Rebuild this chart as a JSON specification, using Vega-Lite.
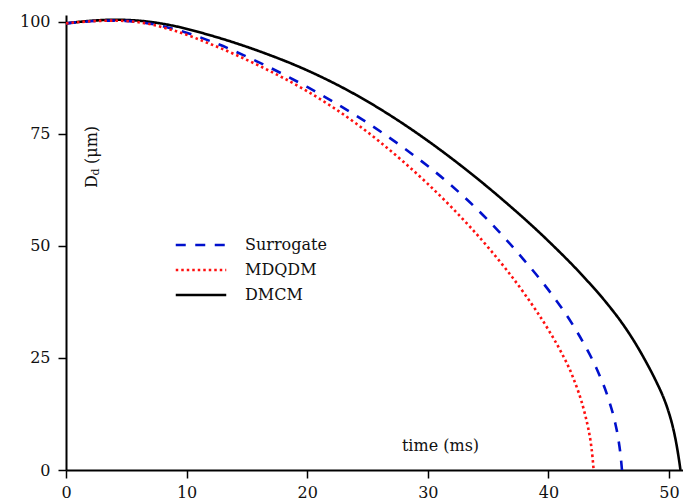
{
  "$schema": "https://vega.github.io/schema/vega-lite/v6.json",
  "width": 617,
  "height": 455,
  "autosize": {"type": "none"},
  "padding": {"left": 66, "top": 15, "right": 0, "bottom": 33},
  "background": "white",
  "config": {"view": {"stroke": null}, "font": "DejaVu Serif"},
  "datasets": {
    "curves": [
      {"model": "DMCM", "t": 0, "D": 99.7}, {"model": "DMCM", "t": 2, "D": 100.25}, {"model": "DMCM", "t": 4, "D": 100.5},
      {"model": "DMCM", "t": 6, "D": 100.3}, {"model": "DMCM", "t": 9, "D": 99.1}, {"model": "DMCM", "t": 12, "D": 97.0},
      {"model": "DMCM", "t": 16, "D": 93.5}, {"model": "DMCM", "t": 20, "D": 89.2}, {"model": "DMCM", "t": 24, "D": 83.8},
      {"model": "DMCM", "t": 28, "D": 77.2}, {"model": "DMCM", "t": 32, "D": 69.5}, {"model": "DMCM", "t": 36, "D": 60.8},
      {"model": "DMCM", "t": 40, "D": 51.1}, {"model": "DMCM", "t": 43, "D": 42.9}, {"model": "DMCM", "t": 45, "D": 36.7},
      {"model": "DMCM", "t": 46, "D": 33.2}, {"model": "DMCM", "t": 47, "D": 29.2}, {"model": "DMCM", "t": 48, "D": 24.6},
      {"model": "DMCM", "t": 49, "D": 19.4}, {"model": "DMCM", "t": 49.5, "D": 16.45}, {"model": "DMCM", "t": 50, "D": 12.7},
      {"model": "DMCM", "t": 50.3, "D": 9.8}, {"model": "DMCM", "t": 50.6, "D": 6.0}, {"model": "DMCM", "t": 50.85, "D": 1.9},
      {"model": "DMCM", "t": 50.95, "D": 0},

      {"model": "Surrogate", "t": 0, "D": 99.7}, {"model": "Surrogate", "t": 2, "D": 100.15}, {"model": "Surrogate", "t": 4, "D": 100.3},
      {"model": "Surrogate", "t": 6, "D": 100.0}, {"model": "Surrogate", "t": 9, "D": 98.4}, {"model": "Surrogate", "t": 12, "D": 95.7},
      {"model": "Surrogate", "t": 16, "D": 91.0}, {"model": "Surrogate", "t": 20, "D": 85.5}, {"model": "Surrogate", "t": 24, "D": 79.2},
      {"model": "Surrogate", "t": 28, "D": 71.9}, {"model": "Surrogate", "t": 32, "D": 63.4}, {"model": "Surrogate", "t": 35, "D": 55.75},
      {"model": "Surrogate", "t": 38, "D": 46.8}, {"model": "Surrogate", "t": 40, "D": 40.2}, {"model": "Surrogate", "t": 42, "D": 32.5},
      {"model": "Surrogate", "t": 43, "D": 27.9}, {"model": "Surrogate", "t": 44, "D": 22.6}, {"model": "Surrogate", "t": 45, "D": 15.7},
      {"model": "Surrogate", "t": 45.5, "D": 10.95}, {"model": "Surrogate", "t": 45.8, "D": 6.9}, {"model": "Surrogate", "t": 46.0, "D": 2.9},
      {"model": "Surrogate", "t": 46.1, "D": 0},

      {"model": "MDQDM", "t": 0, "D": 99.7}, {"model": "MDQDM", "t": 2, "D": 100.15}, {"model": "MDQDM", "t": 4, "D": 100.3},
      {"model": "MDQDM", "t": 6, "D": 99.95}, {"model": "MDQDM", "t": 9, "D": 98.05}, {"model": "MDQDM", "t": 12, "D": 95.05},
      {"model": "MDQDM", "t": 16, "D": 90.25}, {"model": "MDQDM", "t": 20, "D": 84.55}, {"model": "MDQDM", "t": 24, "D": 77.45},
      {"model": "MDQDM", "t": 28, "D": 68.75}, {"model": "MDQDM", "t": 32, "D": 58.55}, {"model": "MDQDM", "t": 35, "D": 49.7},
      {"model": "MDQDM", "t": 38, "D": 39.4}, {"model": "MDQDM", "t": 40, "D": 31.3}, {"model": "MDQDM", "t": 41, "D": 26.6},
      {"model": "MDQDM", "t": 42, "D": 20.95}, {"model": "MDQDM", "t": 43, "D": 12.8}, {"model": "MDQDM", "t": 43.3, "D": 9.35},
      {"model": "MDQDM", "t": 43.5, "D": 6.35}, {"model": "MDQDM", "t": 43.65, "D": 3.05}, {"model": "MDQDM", "t": 43.75, "D": 0}
    ]
  },
  "layer": [
    {
      "data": {"name": "curves"},
      "mark": {"type": "line", "strokeWidth": 2.6, "interpolate": "monotone"},
      "encoding": {
        "x": {
          "field": "t", "type": "quantitative",
          "scale": {"domain": [0, 51.16], "nice": false, "zero": false},
          "axis": {
            "values": [0, 10, 20, 30, 40, 50], "grid": false,
            "domainColor": "black", "domainWidth": 2, "tickColor": "black", "tickWidth": 1.5, "tickSize": 8,
            "labelFont": "DejaVu Serif", "labelFontSize": 16, "labelColor": "#111", "labelPadding": 6, "labelFlush": false,
            "title": "time (ms)", "titleFont": "DejaVu Serif", "titleFontSize": 16, "titleFontWeight": "normal", "titleColor": "#111",
            "titleX": 374, "titleY": -20, "titleAlign": "center", "titleBaseline": "alphabetic", "titleAnchor": null
          }
        },
        "y": {
          "field": "D", "type": "quantitative",
          "scale": {"domain": [0, 101.56], "nice": false},
          "axis": {
            "values": [0, 25, 50, 75, 100], "grid": false,
            "domainColor": "black", "domainWidth": 2, "tickColor": "black", "tickWidth": 1.5, "tickSize": 8,
            "labelFont": "DejaVu Serif", "labelFontSize": 16, "labelColor": "#111", "labelPadding": 8, "labelFlush": false,
            "title": null
          }
        },
        "color": {
          "field": "model", "type": "nominal",
          "scale": {"domain": ["Surrogate", "MDQDM", "DMCM"], "range": ["#0010cc", "#ff1010", "#000000"]},
          "legend": {
            "title": null, "orient": "none", "legendX": 127, "legendY": 222,
            "symbolType": "M-5,0H5", "symbolSize": 102, "symbolStrokeWidth": 2.6,
            "labelFont": "DejaVu Serif", "labelFontSize": 16, "labelColor": "#111", "labelOffset": 36, "rowPadding": 9
          }
        },
        "strokeDash": {
          "field": "model", "type": "nominal",
          "scale": {"domain": ["Surrogate", "MDQDM", "DMCM"], "range": [[10, 9.5], [2.5, 3], [1, 0]]},
          "legend": {
            "title": null, "orient": "none", "legendX": 127, "legendY": 222,
            "symbolType": "M-5,0H5", "symbolSize": 102, "symbolStrokeWidth": 2.6,
            "labelFont": "DejaVu Serif", "labelFontSize": 16, "labelColor": "#111", "labelOffset": 36, "rowPadding": 9
          }
        }
      }
    },
    {
      "mark": {"type": "rule", "color": "black", "strokeWidth": 2},
      "encoding": {"y": {"datum": 101.56}}
    },
    {
      "data": {"values": [{}]},
      "mark": {"type": "text", "text": "D", "angle": 270, "align": "left", "baseline": "alphabetic", "font": "DejaVu Serif", "fontSize": 16, "color": "#111"},
      "encoding": {"x": {"datum": 2.57}, "y": {"datum": 62.95}}
    },
    {
      "data": {"values": [{}]},
      "mark": {"type": "text", "text": "d", "angle": 270, "align": "left", "baseline": "alphabetic", "font": "DejaVu Serif", "fontSize": 11, "color": "#111", "dx": 12.5, "dy": 2.5},
      "encoding": {"x": {"datum": 2.57}, "y": {"datum": 62.95}}
    },
    {
      "data": {"values": [{}]},
      "mark": {"type": "text", "text": "(μm)", "angle": 270, "align": "left", "baseline": "alphabetic", "font": "DejaVu Serif", "fontSize": 16, "color": "#111", "dx": 24},
      "encoding": {"x": {"datum": 2.57}, "y": {"datum": 62.95}}
    }
  ]
}
